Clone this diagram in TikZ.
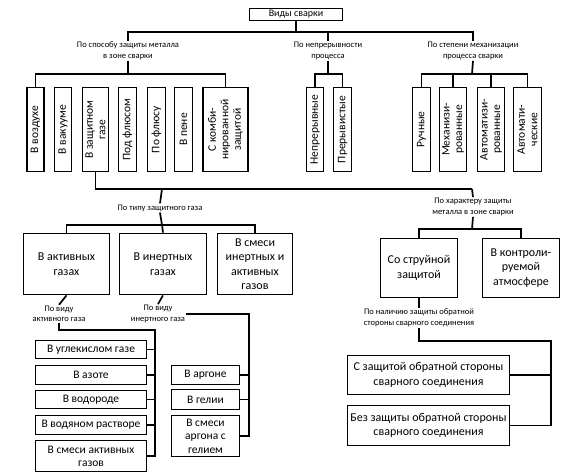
\documentclass[tikz,border=0pt]{standalone}
\usepackage{fontspec}
\setmainfont{Carlito}

\begin{document}
\begin{tikzpicture}[x=1pt, y=-1pt, every node/.style={font=\fontsize{11.5}{13}\selectfont},
	box/.style={draw, line width=1.8pt, align=center, inner sep=1pt},
	vbox/.style={box, rotate=90, minimum width=84, font=\fontsize{11.5}{12.5}\selectfont},
	lbl/.style={align=center, inner sep=1pt, font=\fontsize{8.5}{10.5}\selectfont},
	ln/.style={line width=1.7pt}]
	\useasboundingbox (0,0) rectangle (570,473);
	% top level
	\node[box, minimum width=93, minimum height=12, font=\fontsize{10}{12}\selectfont] (vid) at (296,14.5) {Виды сварки};
	\node[lbl] (sposob) at (128,51) {По способу защиты металла\\в зоне сварки};
	\node[lbl] (nepr) at (328,51) {По непрерывности\\процесса};
	\node[lbl] (mech) at (473,51) {По степени механизации\\процесса сварки};
	\coordinate (j0) at (296,32);
	\draw[ln] (vid.south) -- (j0);
	\draw[ln] (sposob.north) |- (j0) -| (mech.north);
	\draw[ln] (j0 -| nepr.north) -- (nepr.north);
	% first row, vertical boxes
	\node[vbox, minimum height=17] (b1) at (35.5,129.5) {В воздухе};
	\node[vbox, minimum height=17] (b2) at (63,129.5) {В вакууме};
	\node[vbox, minimum height=26] (b3) at (95.5,129.5) {В защитном\\газе};
	\node[vbox, minimum height=18] (b4) at (127.5,129.5) {Под флюсом};
	\node[vbox, minimum height=18] (b5) at (156.5,129.5) {По флюсу};
	\node[vbox, minimum height=18] (b6) at (183.5,129.5) {В пене};
	\node[vbox, minimum height=45] (b7) at (225.5,129.5) {С комби-\\нированной\\защитой};
	\node[vbox, minimum height=17] (n1) at (315,129.5) {Непрерывные};
	\node[vbox, minimum height=18] (n2) at (342.5,129.5) {Прерывистые};
	\node[vbox, minimum height=18] (m1) at (421.5,129.5) {Ручные};
	\node[vbox, minimum height=27] (m2) at (453,129.5) {Механизи-\\рованные};
	\node[vbox, minimum height=27] (m3) at (491,129.5) {Автоматизи-\\рованные};
	\node[vbox, minimum height=28] (m4) at (527.5,129.5) {Автомати-\\ческие};
	\coordinate (j1) at (128,74);
	\coordinate (j1b) at (328,74);
	\coordinate (j1c) at (472,74);
	\draw[ln] (sposob.south) -- (j1);
	\draw[ln] (b1.east) |- (j1) -| (b7.east);
	\draw[ln] (nepr.south) -- (j1b);
	\draw[ln] (n1.east) |- (j1b) -| (n2.east);
	\draw[ln] (mech.south) -- (j1c);
	\draw[ln] (m1.east) |- (j1c) -| (m4.east);
	\foreach \m in {m2,m3} \draw[ln] (\m.east) -- (\m.east |- j1c);
	% shielding gas
	\coordinate (j2) at (162,189);
	\coordinate (j3) at (472,189);
	\draw[ln] (b3.west) |- (j3);
	\node[lbl] (tip) at (160,208) {По типу защитного газа};
	\node[lbl] (har) at (473,207) {По характеру защиты\\металла в зоне сварки};
	\draw[ln] (j2) -- (tip.north);
	\draw[ln] (j3) -- (har.north);
	\node[box, minimum width=86, minimum height=61, font=\fontsize{12}{14.5}\selectfont] (gAct) at (66.5,264) {В активных\\газах};
	\node[box, minimum width=87, minimum height=61, font=\fontsize{12}{14.5}\selectfont] (gIn) at (163,264) {В инертных\\газах};
	\node[box, minimum width=75, minimum height=61, font=\fontsize{12}{14.5}\selectfont] (gMix) at (255,264) {В смеси\\инертных и\\активных\\газов};
	\coordinate (j4) at (162,225);
	\draw[ln] (tip.south) -- (j4);
	\draw[ln] (gAct.north) |- (j4) -| (gMix.north);
	\draw[ln] (j4) -- (gIn.north);
	\node[box, minimum width=77, minimum height=59, font=\fontsize{12}{14.5}\selectfont] (struy) at (419,268) {Со струйной\\защитой};
	\node[box, minimum width=77, minimum height=59, font=\fontsize{12}{14.5}\selectfont] (kontr) at (521,268) {В контроли-\\руемой\\атмосфере};
	\coordinate (j5) at (472,229);
	\draw[ln] (har.south) -- (j5);
	\draw[ln] (struy.north) |- (j5) -| (kontr.north);
	% active gases
	\node[lbl] (vidA) at (59,314) {По виду\\активного газа};
	\draw[ln] (gAct.south) -- (vidA.north);
	\node[box, minimum width=111, minimum height=18] (a1) at (91,349.5) {В углекислом газе};
	\node[box, minimum width=111, minimum height=19] (a2) at (91,375) {В азоте};
	\node[box, minimum width=111, minimum height=18] (a3) at (91,399.5) {В водороде};
	\node[box, minimum width=111, minimum height=19] (a4) at (91,425) {В водяном растворе};
	\node[box, minimum width=111, minimum height=31] (a5) at (91,456) {В смеси активных\\газов};
	\coordinate (j6) at (155,330);
	\draw[ln] (vidA.south) |- (j6) |- (a5.east);
	\foreach \a in {a1,a2,a3,a4} \draw[ln] (\a.east) -- (\a.east -| j6);
	% inert gases
	\node[lbl] (vidI) at (158,314) {По виду\\инертного газа};
	\draw[ln] (gIn.south) -- (vidI.north);
	\node[box, minimum width=68, minimum height=19] (i1) at (205.5,375) {В аргоне};
	\node[box, minimum width=68, minimum height=20] (i2) at (205.5,399.5) {В гелии};
	\node[box, minimum width=68, minimum height=41, font=\fontsize{11.5}{13.5}\selectfont] (i3) at (205.5,436) {В смеси\\аргона с\\гелием};
	\coordinate (j7) at (249,314);
	\draw[ln] (vidI.east) -- (j7) |- (i3.east);
	\foreach \i in {i1,i2} \draw[ln] (\i.east) -- (\i.east -| j7);
	% back side
	\node[lbl] (nal) at (419,318) {По наличию защиты обратной\\стороны сварного соединения};
	\draw[ln] (struy.south) -- (nal.north);
	\node[box, minimum width=162, minimum height=39, font=\fontsize{12}{14.5}\selectfont] (r1) at (428.5,375) {С защитой обратной стороны\\сварного соединения};
	\node[box, minimum width=162, minimum height=40, font=\fontsize{12}{14.5}\selectfont] (r2) at (428.5,425.5) {Без защиты обратной стороны\\сварного соединения};
	\coordinate (j8) at (551,341);
	\draw[ln] (nal.south) |- (j8) |- (r2.east);
	\draw[ln] (r1.east) -- (r1.east -| j8);
\end{tikzpicture}
\end{document}
